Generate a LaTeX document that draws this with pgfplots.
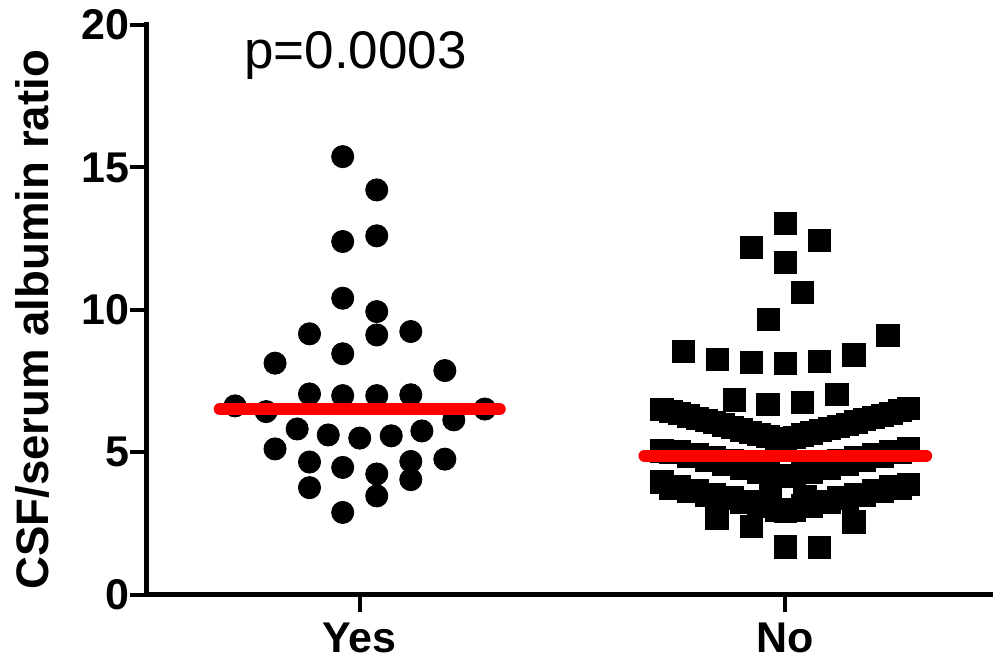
\documentclass[border=0pt]{standalone}
\usepackage{fontspec}
\setmainfont{Liberation Sans}
\usepackage{pgfplots}
\pgfplotsset{compat=1.18}
\begin{document}
\begin{tikzpicture}
\begin{axis}[
  scale only axis,
  width=423.2pt, height=285pt,
  xmin=0.5, xmax=2.488, ymin=0, ymax=20,
  axis lines=left,
  axis line style={-, line width=2.5pt, line cap=rect},
  tick align=outside,
  major tick length=8.5pt,
  major tick style={line width=2pt, black},
  xtick={1,2}, xticklabels={Yes,No},
  ytick={0,5,10,15,20},
  /pgf/number format/assume math mode=true,
  yticklabel style={font=\bfseries\fontsize{21.5}{21.5}\selectfont, anchor=east, inner sep=0pt},
  xticklabel style={font=\bfseries\fontsize{21.5}{21.5}\selectfont, anchor=north, inner sep=0pt, yshift=-5.5pt},
  ylabel={CSF/serum albumin ratio},
  ylabel style={at={(axis description cs:-0.1158,0.4825)}, anchor=base, font=\bfseries\fontsize{22.8}{22.8}\selectfont},
  clip=false,
  clip marker paths=true,
]
% Yes group
\addplot[only marks, mark=*, mark size=5.55pt, mark options={fill=black, draw=black}] coordinates {
(0.960,15.38) (1.040,14.21) (0.960,12.40) (1.040,12.60) (0.960,10.41) (1.040,9.94)
(0.882,9.16) (1.040,9.12) (1.120,9.24) (0.960,8.46) (0.801,8.13) (1.200,7.87)
(0.882,7.05) (0.960,6.99) (1.040,6.99) (1.120,7.02) (0.707,6.63) (0.780,6.43)
(1.294,6.52) (1.221,6.14) (0.853,5.82) (0.926,5.61) (1.000,5.50) (1.074,5.58)
(1.146,5.75) (0.801,5.12) (0.882,4.66) (0.960,4.47) (1.040,4.24) (1.120,4.68)
(1.200,4.76) (1.120,4.04) (0.882,3.76) (1.040,3.47) (0.960,2.89)
};
% No group
\addplot[only marks, mark=square*, mark size=5.55pt, mark options={fill=black, draw=black}] coordinates {
(2.000,13.04) (1.921,12.19) (2.081,12.43) (2.000,11.67) (2.040,10.62) (1.961,9.68)
(2.241,9.10) (1.760,8.54) (1.840,8.25) (1.921,8.16) (2.000,8.11) (2.081,8.19)
(2.161,8.42) (1.881,6.84) (1.959,6.67) (2.041,6.74) (2.121,7.02)
(1.839,2.70) (1.921,2.39) (2.161,2.56) (2.000,1.68) (2.081,1.65)
% band A
(2.000,5.39)
(1.979,5.47) (1.959,5.55) (1.938,5.63) (1.917,5.71) (1.896,5.79) (1.876,5.87) (1.855,5.96)
(1.834,6.04) (1.814,6.12) (1.793,6.20) (1.772,6.28) (1.752,6.36) (1.731,6.44) (1.710,6.52)
(2.021,5.53) (2.041,5.61) (2.062,5.68) (2.083,5.76) (2.104,5.84) (2.124,5.92) (2.145,5.99)
(2.166,6.07) (2.186,6.15) (2.207,6.23) (2.228,6.30) (2.248,6.38) (2.269,6.46) (2.290,6.54)
% band B
(2.000,4.16)
(1.979,4.17) (1.959,4.30) (1.938,4.31) (1.917,4.55) (1.896,4.45) (1.876,4.70) (1.855,4.59)
(1.834,4.82) (1.814,4.73) (1.793,4.92) (1.772,4.87) (1.752,5.02) (1.731,5.01) (1.710,5.05)
(2.021,4.17) (2.041,4.30) (2.062,4.31) (2.083,4.55) (2.104,4.45) (2.124,4.70) (2.145,4.59)
(2.166,4.82) (2.186,4.73) (2.207,4.92) (2.228,4.87) (2.248,5.02) (2.269,5.01) (2.290,5.12)
% band C
(2.000,2.93)
(1.979,2.98) (1.959,3.15) (1.938,3.11) (1.917,3.28) (1.896,3.24) (1.876,3.40) (1.855,3.37)
(1.834,3.53) (1.814,3.50) (1.793,3.66) (1.772,3.63) (1.752,3.79) (1.731,3.75) (1.710,3.96)
(2.021,2.98) (2.041,3.15) (2.062,3.11) (2.083,3.28) (2.104,3.24) (2.124,3.40) (2.145,3.37)
(2.166,3.53) (2.186,3.50) (2.207,3.66) (2.228,3.63) (2.248,3.79) (2.269,3.75) (2.290,3.88)
(1.964,3.51) (2.046,3.44)
};
% medians
\addplot[red, line width=6pt, line cap=round] coordinates {(0.671,6.52) (1.329,6.52)};
\addplot[red, line width=6pt, line cap=round] coordinates {(1.669,4.88) (2.331,4.88)};
\node[anchor=base, font=\fontsize{26.5}{26.5}\selectfont] at (axis cs:0.99,18.46) {p=0.0003};
\end{axis}
\pgfresetboundingbox
\path[use as bounding box] (-73.5pt,-35.5pt) rectangle (423.2pt,297.5pt);
\end{tikzpicture}
\end{document}
